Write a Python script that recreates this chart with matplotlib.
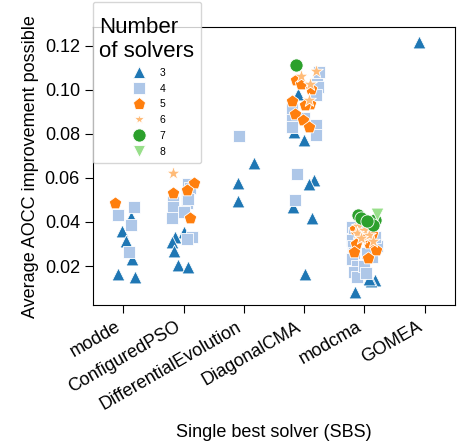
import numpy as np
import matplotlib
matplotlib.use('Agg')
import matplotlib.pyplot as plt
from matplotlib.lines import Line2D
from matplotlib.offsetbox import DrawingArea

plt.rcParams['font.family'] = ['Liberation Sans', 'DejaVu Sans']

# categories on the x axis
solvers = ['modde', 'ConfiguredPSO', 'DifferentialEvolution', 'DiagonalCMA', 'modcma', 'GOMEA']

# one entry per point: solver index, number of solvers, AOCC improvement, jitter
sbs = ([0] * 11 + [1] * 22 + [2] * 4 + [3] * 34 + [4] * 40 + [5] * 1)
n_solvers = [
    # modde
    5, 4, 4, 3, 4, 3, 3, 4, 3, 3, 3,
    # ConfiguredPSO
    6, 4, 5, 5, 5, 4, 4, 4, 4, 4, 4, 5, 3, 3, 3, 4, 4, 3, 3, 3, 4, 4,
    # DifferentialEvolution
    4, 3, 3, 3,
    # DiagonalCMA
    7, 6, 4, 6, 5, 6, 5, 4, 4, 5, 3, 4, 5, 6, 5, 5, 4, 5, 4, 5, 4, 4, 4, 5,
    3, 4, 3, 4, 3, 3, 4, 3, 3, 3,
    # modcma
    7, 7, 7, 7, 7, 8, 6, 6, 6, 6, 6, 6, 5, 5, 5, 5, 5, 5, 5, 5,
    4, 4, 4, 4, 4, 4, 4, 4, 4, 4, 4, 4, 4, 4, 4, 4, 3, 3, 3, 3,
    # GOMEA
    3,
]
aocc = [
    0.0486, 0.0468, 0.0431, 0.0423, 0.0386, 0.0360, 0.0313, 0.0265, 0.0232, 0.0164, 0.0152,
    0.0620, 0.0574, 0.0577, 0.0544, 0.0532, 0.0521, 0.0491, 0.0484, 0.0468, 0.0446, 0.0416,
    0.0419, 0.0355, 0.0333, 0.0310, 0.0333, 0.0322, 0.0269, 0.0205, 0.0194, 0.0555, 0.0505,
    0.0788, 0.0667, 0.0577, 0.0494,
    0.1110, 0.1084, 0.1080, 0.1064, 0.1042, 0.1027, 0.1026, 0.1027, 0.1010, 0.1004, 0.0981,
    0.0975, 0.0948, 0.0951, 0.0936, 0.0929, 0.0910, 0.0888, 0.0870, 0.0860, 0.0860, 0.0838,
    0.0830, 0.0830, 0.0808, 0.0793, 0.0770, 0.0619, 0.0592, 0.0574, 0.0499, 0.0466, 0.0419,
    0.0162,
    0.0431, 0.0416, 0.0410, 0.0386, 0.0405, 0.0438, 0.0380, 0.0365, 0.0350, 0.0340, 0.0325,
    0.0315, 0.0370, 0.0345, 0.0303, 0.0300, 0.0272, 0.0265, 0.0235, 0.0330,
    0.0375, 0.0350, 0.0320, 0.0290, 0.0260, 0.0230, 0.0200, 0.0175, 0.0150, 0.0200, 0.0170,
    0.0240, 0.0290, 0.0330, 0.0260, 0.0360, 0.0084, 0.0137, 0.0132, 0.0140,
    0.1215,
]
jitter = [
    -0.14, 0.18, -0.09, 0.13, 0.12, -0.02, 0.04, 0.10, 0.15, -0.09, 0.19,
    -0.17, 0.07, 0.18, 0.06, -0.18, 0.06, -0.17, 0.06, -0.17, 0.00, -0.20,
    0.11, 0.00, -0.14, -0.20, 0.14, 0.05, -0.16, -0.10, 0.08, 0.10, 0.08,
    -0.08, 0.17, -0.09, -0.10,
    -0.14, 0.19, 0.25, -0.05, -0.13, 0.09, -0.05, 0.22, 0.23, 0.12, -0.10,
    0.20, -0.20, 0.08, 0.09, 0.01, -0.20, -0.16, 0.00, -0.02, -0.21, 0.20,
    -0.21, 0.08, -0.17, 0.20, 0.00, -0.12, 0.17, 0.08, -0.16, -0.18, 0.13,
    0.02,
    -0.10, -0.05, 0.17, 0.14, 0.05, 0.20, -0.10, 0.00, -0.12, 0.08, -0.05,
    0.15, -0.15, 0.13, 0.07, -0.14, 0.19, -0.17, 0.06, -0.02,
    -0.20, -0.18, -0.20, -0.19, -0.17, -0.20, -0.13, -0.17, -0.12, 0.00, 0.03,
    0.13, 0.20, 0.18, 0.05, 0.05, -0.16, 0.17, 0.11, 0.07,
    -0.10,
]

groups = [3, 4, 5, 6, 7, 8]
colors = ['#1f77b4', '#aec7e8', '#ff7f0e', '#ffbb78', '#2ca02c', '#98df8a']
markers = ['^', 's', 'p', '*', 'o', 'v']
sizes = [85, 80, 90, 110, 90, 85]

sbs = np.array(sbs)
n_solvers = np.array(n_solvers)
aocc = np.array(aocc)
jitter = np.array(jitter)

fig = plt.figure(figsize=(4.59, 4.46), dpi=100)
ax = fig.add_axes([0.203, 0.316, 0.788, 0.623])

for g, c, m, s in zip(groups, colors, markers, sizes):
    sel = n_solvers == g
    ax.scatter(sbs[sel] + jitter[sel], aocc[sel], s=s, c=c, marker=m,
               edgecolors='white', linewidths=0.6, zorder=2 + g)

ax.set_xlim(-0.5, 5.5)
ax.set_ylim(0.0023, 0.1283)
ax.set_xticks(range(len(solvers)))
ax.set_xticklabels(solvers, rotation=30, ha='right', fontsize=13)
ax.set_yticks([0.02, 0.04, 0.06, 0.08, 0.10, 0.12])
ax.set_yticklabels(['0.02', '0.04', '0.06', '0.08', '0.10', '0.12'], fontsize=13)
ax.tick_params(length=6)
ax.set_xlabel('Single best solver (SBS)', fontsize=13, labelpad=8)
ax.set_ylabel('Average AOCC improvement possible', fontsize=13)

handles = []
for g, c, m, s in zip(groups, colors, markers, sizes):
    handles.append(Line2D([], [], linestyle='', marker=m, color=c,
                          markeredgecolor='white', markeredgewidth=0.6,
                          markersize=np.sqrt(s) * (0.75 if m == '*' else 1.0)))
leg = ax.legend(handles, [str(g) for g in groups], title='Number\nof solvers',
                loc='upper left', bbox_to_anchor=(0.0, 1.09), borderaxespad=0,
                fontsize=7.5, title_fontsize=16, framealpha=0.8, borderpad=0.6,
                labelspacing=0.55, handletextpad=1.0)
# a bit of extra room above the title, like the original
leg._legend_box._children.insert(0, DrawingArea(1, 2))
leg.set_zorder(20)

fig.savefig('out.png', dpi=100)
